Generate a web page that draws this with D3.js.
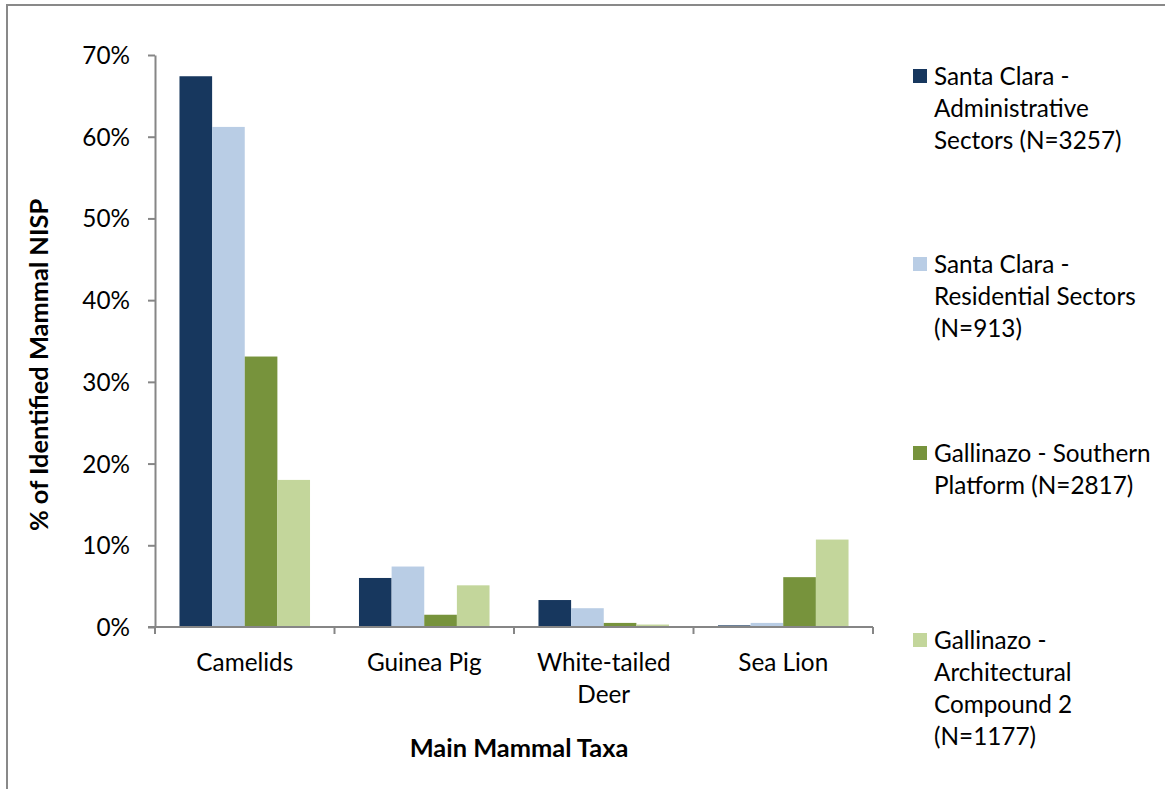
<!DOCTYPE html>
<html>
<head>
<meta charset="utf-8">
<script src="https://cdn.jsdelivr.net/npm/d3@7"></script>
<style>
  html, body { margin: 0; padding: 0; background: #fff; }
  svg { display: block; }
  text { font-family: "Lato", "Liberation Sans", sans-serif; fill: #000; }
</style>
</head>
<body>
<svg id="chart" width="1165" height="789"></svg>
<script>
// Main mammal taxa (x categories); multi-line labels split on "\n"
const categories = ["Camelids", "Guinea Pig", "White-tailed\nDeer", "Sea Lion"];

// Series: site / sector assemblages
const seriesNames = [
  "Santa Clara -\nAdministrative\nSectors (N=3257)",
  "Santa Clara -\nResidential Sectors\n(N=913)",
  "Gallinazo - Southern\nPlatform (N=2817)",
  "Gallinazo -\nArchitectural\nCompound 2\n(N=1177)"
];
const seriesColors = ["#17375E", "#B9CDE5", "#77933C", "#C3D69B"];

// % of identified mammal NISP, one array per series, in category order
const adminSectors = [67.4, 6.0, 3.3, 0.2];
const residentialSectors = [61.2, 7.4, 2.3, 0.5];
const southernPlatform = [33.1, 1.5, 0.5, 6.1];
const architecturalCompound2 = [18.0, 5.1, 0.3, 10.7];
const seriesValues = [adminSectors, residentialSectors, southernPlatform, architecturalCompound2];

const yTicks = [0, 10, 20, 30, 40, 50, 60, 70];

const svg = d3.select("#chart");
const axisColor = "#868686";
const fontSize = 24.3;
const titleSize = 25.4;

// outer chart-area border (left and top edges)
svg.append("path")
  .attr("d", "M7,789 L7,5 L1165,5")
  .attr("fill", "none")
  .attr("stroke", "#898989")
  .attr("stroke-width", 2);

const plot = { left: 155, right: 873, top: 55, bottom: 627 };

const x0 = d3.scaleBand()
  .domain(categories)
  .range([plot.left, plot.right])
  .padding(0);

// Excel-style gap width of 150% between category groups
const gapRatio = 1.5;
const x1 = d3.scaleBand()
  .domain(d3.range(seriesNames.length))
  .range([0, x0.bandwidth()])
  .paddingInner(0)
  .paddingOuter(gapRatio / 2);

const y = d3.scaleLinear().domain([0, 70]).range([plot.bottom, plot.top]);

// bars
seriesValues.forEach((vals, si) => {
  svg.append("g")
    .selectAll("rect")
    .data(vals)
    .join("rect")
    .attr("x", (d, i) => x0(categories[i]) + x1(si))
    .attr("y", d => y(d))
    .attr("width", x1.bandwidth())
    .attr("height", d => y(0) - y(d))
    .attr("fill", seriesColors[si]);
});

// y axis
const yAxis = svg.append("g")
  .attr("transform", `translate(${plot.left},0)`)
  .call(d3.axisLeft(y).tickValues(yTicks).tickSize(7).tickSizeOuter(0)
    .tickFormat(d => d + "%"));
yAxis.select(".domain").attr("stroke", axisColor).attr("stroke-width", 2);
yAxis.selectAll(".tick line").attr("stroke", axisColor).attr("stroke-width", 2);
yAxis.selectAll(".tick text")
  .attr("x", -25)
  .attr("dy", "0.35em")
  .style("font-size", fontSize + "px")
  .style("font-family", "Lato, sans-serif")
  .attr("fill", "#000");

// x axis: baseline with ticks at category boundaries
const xAxisG = svg.append("g");
xAxisG.append("line")
  .attr("x1", plot.left - 7).attr("x2", plot.right)
  .attr("y1", y(0)).attr("y2", y(0))
  .attr("stroke", axisColor).attr("stroke-width", 2);
const boundaries = categories.map(c => x0(c)).concat([x0(categories[categories.length - 1]) + x0.bandwidth()]);
xAxisG.selectAll("line.tk")
  .data(boundaries)
  .join("line")
  .attr("class", "tk")
  .attr("x1", d => d).attr("x2", d => d)
  .attr("y1", y(0)).attr("y2", y(0) + 7)
  .attr("stroke", axisColor).attr("stroke-width", 2);

// category labels
const lineH = 32;
categories.forEach(c => {
  const t = svg.append("text")
    .attr("text-anchor", "middle")
    .style("font-size", fontSize + "px");
  c.split("\n").forEach((ln, i) => {
    t.append("tspan")
      .attr("x", x0(c) + x0.bandwidth() / 2)
      .attr("y", 662 + i * lineH)
      .attr("dy", "0.35em")
      .text(ln);
  });
});

// axis titles
svg.append("text")
  .attr("x", 519).attr("y", 748).attr("dy", "0.35em")
  .attr("text-anchor", "middle")
  .style("font-size", titleSize + "px")
  .style("font-weight", "bold")
  .text("Main Mammal Taxa");

svg.append("text")
  .attr("transform", "translate(39,365) rotate(-90)")
  .attr("dy", "0.35em")
  .attr("text-anchor", "middle")
  .style("font-size", titleSize + "px")
  .style("font-weight", "bold")
  .text("% of Identified Mammal NISP");

// legend
const legendTops = [76, 264, 453, 640];
seriesNames.forEach((name, si) => {
  const g = svg.append("g");
  g.append("rect")
    .attr("x", 913).attr("y", legendTops[si] - 7)
    .attr("width", 14).attr("height", 14)
    .attr("fill", seriesColors[si]);
  const t = g.append("text").style("font-size", fontSize + "px");
  name.split("\n").forEach((ln, i) => {
    t.append("tspan")
      .attr("x", 934)
      .attr("y", legendTops[si] + i * lineH)
      .attr("dy", "0.35em")
      .text(ln);
  });
});
</script>
</body>
</html>
